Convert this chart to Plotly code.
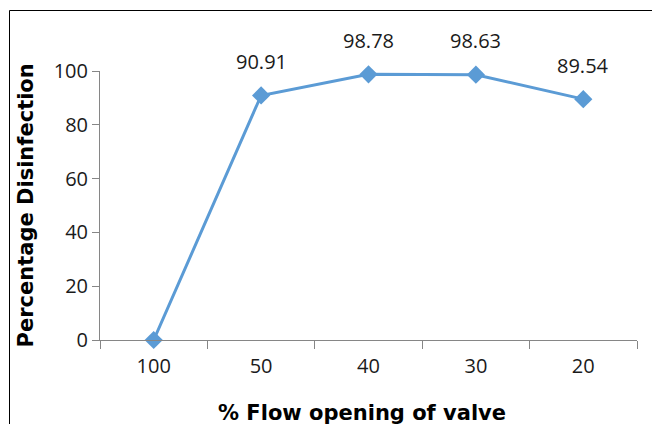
import plotly.graph_objects as go

categories = ["100", "50", "40", "30", "20"]
disinfection = [0, 90.91, 98.78, 98.63, 89.54]
label_values = [None, 90.91, 98.78, 98.63, 89.54]
y_ticks = [0, 20, 40, 60, 80, 100]

line_color = "#5B9BD5"
axis_color = "#868686"
text_color = "#1a1a1a"

fig = go.Figure()
fig.add_trace(go.Scatter(
    x=categories, y=disinfection, mode="lines+markers",
    line=dict(color=line_color, width=3),
    marker=dict(symbol="diamond", size=14, color=line_color),
    showlegend=False, cliponaxis=False,
))

for i, v in enumerate(label_values):
    if v is None:
        continue
    fig.add_annotation(x=i, y=v, text=f"{v:.2f}", showarrow=False, yshift=34,
                       font=dict(family="Open Sans", size=20, color=text_color))

fig.add_annotation(xref="paper", yref="paper", x=0.488, y=-0.27, yanchor="middle",
                   text="<b>% Flow opening of valve</b>", showarrow=False,
                   font=dict(family="DejaVu Sans", size=21, color="#000000"))
fig.add_annotation(xref="paper", yref="paper", x=-0.138, y=0.5, xanchor="center",
                   textangle=-90, text="<b>Percentage Disinfection</b>", showarrow=False,
                   font=dict(family="DejaVu Sans", size=21, color="#000000"))

# outer border of the chart frame
fig.add_shape(type="rect", xref="paper", yref="paper",
              x0=(9.5 - 100) / 537, x1=(700 - 100) / 537,
              y0=(340 - 480) / 269, y1=(340 - 10.5) / 269,
              line=dict(color="#000000", width=1), layer="below")

fig.update_xaxes(
    type="category", range=[-0.5, 4.5], showline=True, linecolor=axis_color, linewidth=1,
    ticks="outside", tickson="boundaries", ticklen=8, tickcolor=axis_color,
    showgrid=False, zeroline=False, ticklabelstandoff=8,
    tickfont=dict(family="Open Sans", size=20, color=text_color),
)
fig.update_yaxes(
    range=[0, 100], tickvals=y_ticks, showline=True, linecolor=axis_color, linewidth=1,
    ticks="outside", ticklen=7, tickcolor=axis_color, showgrid=False, zeroline=False,
    tickfont=dict(family="Open Sans", size=20, color=text_color),
)

fig.update_layout(
    width=652, height=424,
    margin=dict(l=100, r=15, t=71, b=84),
    plot_bgcolor="white", paper_bgcolor="white",
)

fig.write_html("out.html", config={"displayModeBar": False},
               post_script="document.body.style.margin='0px';document.body.style.overflow='hidden';")
